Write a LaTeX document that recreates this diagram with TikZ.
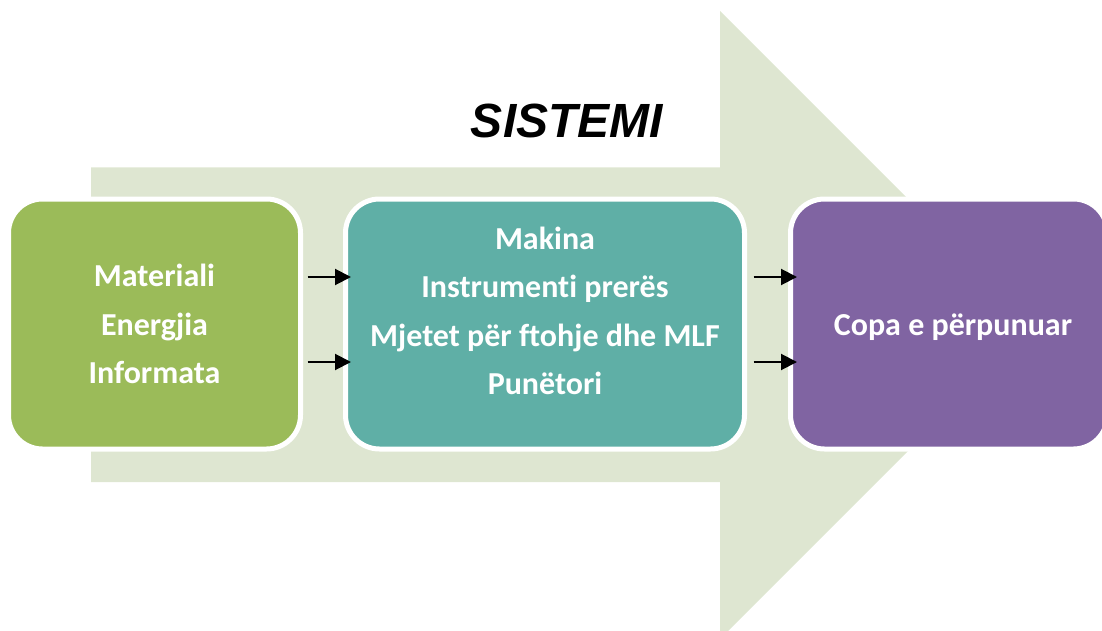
\documentclass[tikz,border=0pt]{standalone}
\usepackage{fontspec}
\setmainfont{Carlito}[Ligatures=NoCommon]
\newfontfamily\titlefont{Liberation Sans}
\usetikzlibrary{arrows.meta}
\definecolor{flowbg}{HTML}{DEE6D1}
\definecolor{inputbox}{HTML}{9BBB59}
\definecolor{processbox}{HTML}{5FAFA6}
\definecolor{outputbox}{HTML}{8064A2}
\tikzset{
  card/.style={draw=white, line width=5pt, rounded corners=34pt,
    minimum height=250pt, inner sep=0pt},
  cardtext/.style={text=white, align=center,
    font=\bfseries\fontsize{32}{48.5}\selectfont},
  flowarrow/.style={line width=2pt, -{Triangle[length=16pt,width=16pt]}},
}
\begin{document}
\begin{tikzpicture}[x=1pt, y=-1pt]
  \useasboundingbox (0,0) rectangle (1102,631);
  \clip (0,0) rectangle (1102,631);
  % broad background arrow
  \fill[flowbg] (91,167.5) -- (720,167.5) -- (720,11) -- (1034,325)
    -- (720,639) -- (720,482) -- (91,482) -- cycle;
  % title
  \node (title) at (567,121) {\titlefont\bfseries\itshape\fontsize{48}{52}\selectfont SISTEMI};
  % three stages
  \node[card, fill=inputbox, minimum width=292pt, cardtext] (inputs) at (154.5,324)
    {Materiali\\Energjia\\Informata};
  \node[card, fill=processbox, minimum width=399pt] (process) at (545,324) {};
  \node[cardtext] (processtext) at (545,311)
    {Makina\\Instrumenti prerës\\Mjetet për ftohje dhe MLF\\Punëtori};
  \node[card, fill=outputbox, minimum width=317pt] (output) at (949,324) {};
  \node[cardtext] (outputtext) at (953,327) {Copa e përpunuar};
  % connectors between stages
  \foreach \dy in {47,-38} {
    \draw[flowarrow, shorten <=4.5pt, shorten >=-8pt]
      ([yshift=\dy pt]inputs.east) -- ([yshift=\dy pt]process.west);
    \draw[flowarrow, shorten <=6.5pt, shorten >=-9pt]
      ([yshift=\dy pt]process.east) -- ([yshift=\dy pt]output.west);
  }
\end{tikzpicture}
\end{document}
